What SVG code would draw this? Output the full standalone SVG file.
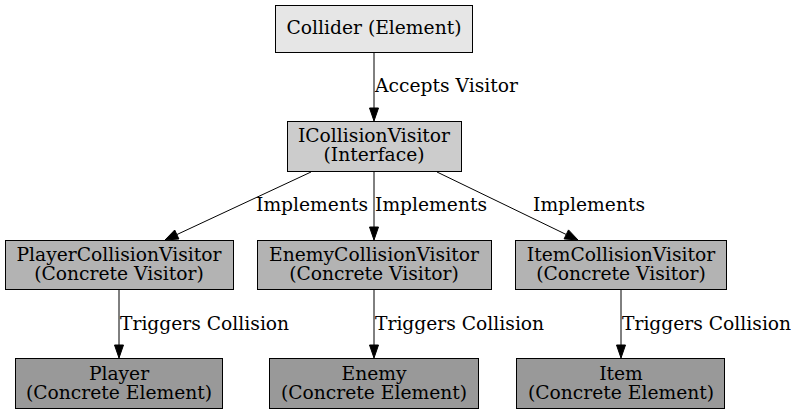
<svg xmlns="http://www.w3.org/2000/svg" width="795" height="415" viewBox="0 0 795 415">
<style>
text{font-family:"DejaVu Serif","Liberation Serif",serif;font-size:18.7px;fill:#000}
.n text{text-anchor:middle}
.n rect{stroke:#000;stroke-width:1}
.l0{fill:#e6e6e6}.l1{fill:#cccccc}.l2{fill:#b3b3b3}.l3{fill:#999999}
.e path{fill:none;stroke:#000;stroke-width:1}
.e polygon{fill:#000;stroke:#000}
</style>
<rect width="795" height="415" fill="#fff"/>
<g id="edges" class="e">
<path d="M374,53 L374,108"/><polygon points="369.5,108 378.5,108 374,121"/>
<text x="375" y="92">Accepts Visitor</text>
<path d="M311,172 L177,234.5"/><polygon points="174.7,230 178.9,239 165,240"/>
<text x="256" y="211">Implements</text>
<path d="M374,172 L374,227"/><polygon points="369.5,227 378.5,227 374,240"/>
<text x="375" y="211">Implements</text>
<path d="M437,172 L566,234.4"/><polygon points="564.1,238.9 568.5,229.9 578,240"/>
<text x="533" y="211">Implements</text>
<path d="M119,290 L119,345"/><polygon points="114.5,345 123.5,345 119,358"/>
<text x="120" y="330">Triggers Collision</text>
<path d="M374,290 L374,345"/><polygon points="369.5,345 378.5,345 374,358"/>
<text x="375" y="330">Triggers Collision</text>
<path d="M621,290 L621,345"/><polygon points="616.5,345 625.5,345 621,358"/>
<text x="622" y="330">Triggers Collision</text>
</g>
<g id="collider" class="n"><rect class="l0" x="275.5" y="5.5" width="197" height="47"/><text x="374" y="34">Collider (Element)</text></g>
<g id="icv" class="n"><rect class="l1" x="287.5" y="121.5" width="174" height="50"/><text x="374" y="142">ICollisionVisitor</text><text x="374" y="161">(Interface)</text></g>
<g id="pcv" class="n"><rect class="l2" x="5.5" y="240.5" width="228" height="49"/><text x="119" y="261">PlayerCollisionVisitor</text><text x="119" y="280">(Concrete Visitor)</text></g>
<g id="ecv" class="n"><rect class="l2" x="257.5" y="240.5" width="234" height="49"/><text x="374" y="261">EnemyCollisionVisitor</text><text x="374" y="280">(Concrete Visitor)</text></g>
<g id="icv2" class="n"><rect class="l2" x="515.5" y="240.5" width="211" height="49"/><text x="621" y="261">ItemCollisionVisitor</text><text x="621" y="280">(Concrete Visitor)</text></g>
<g id="player" class="n"><rect class="l3" x="15.5" y="358.5" width="207" height="50"/><text x="119" y="380">Player</text><text x="119" y="399">(Concrete Element)</text></g>
<g id="enemy" class="n"><rect class="l3" x="269.5" y="358.5" width="209" height="50"/><text x="374" y="380">Enemy</text><text x="374" y="399">(Concrete Element)</text></g>
<g id="item" class="n"><rect class="l3" x="516.5" y="358.5" width="208" height="50"/><text x="621" y="380">Item</text><text x="621" y="399">(Concrete Element)</text></g>
</svg>
